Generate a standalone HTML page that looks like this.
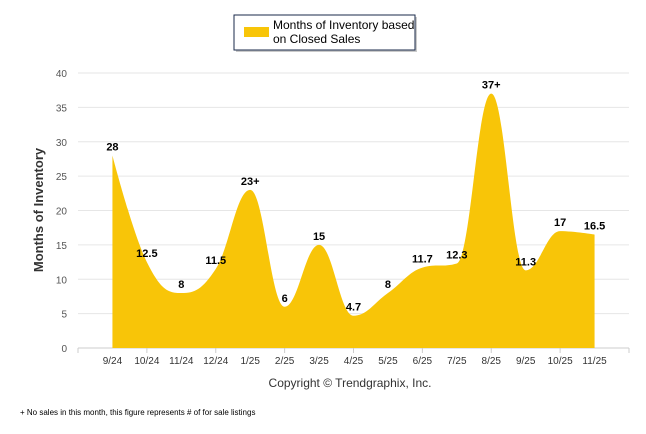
<!DOCTYPE html>
<html><head><meta charset="utf-8"><style>
body{margin:0;background:#fff;font-family:"Liberation Sans",Arial,sans-serif}
svg{display:block}
</style></head><body>
<svg id="c" width="646" height="434" xmlns="http://www.w3.org/2000/svg">
<g>
<rect x="236" y="17" width="181" height="35" fill="#666" opacity="0.35"/>
<rect x="234" y="15" width="181" height="35" fill="#fff" stroke="#1a2a4a" stroke-width="1"/>
<rect x="244" y="27" width="25" height="10" fill="#f8c508"/>
<text x="273" y="29" font-size="12" fill="#000">Months of Inventory based</text>
<text x="273" y="43" font-size="12" fill="#000">on Closed Sales</text>
</g>
<g id="grid"></g>
<path id="area" fill="#f8c508"/>
<g id="labels"></g>
<text x="43" y="210" font-size="13" font-weight="bold" fill="#333" transform="rotate(-90 43 210)" text-anchor="middle">Months of Inventory</text>
<text x="350" y="387" font-size="12" fill="#333" text-anchor="middle">Copyright © Trendgraphix, Inc.</text>
<text x="20" y="415" font-size="8" fill="#000">+  No sales in this month, this figure represents # of for sale listings</text>
</svg>
<script>
const categories=["9/24","10/24","11/24","12/24","1/25","2/25","3/25","4/25","5/25","6/25","7/25","8/25","9/25","10/25","11/25"];
const values=[28,12.5,8,11.5,23,6,15,4.7,8,11.7,12.3,37,11.3,17,16.5];
const valueLabels=["28","12.5","8","11.5","23+","6","15","4.7","8","11.7","12.3","37+","11.3","17","16.5"];
const yTicks=[0,5,10,15,20,25,30,35,40];
const NS="http://www.w3.org/2000/svg";
const x0=78,x1=629,y0=348,y1=73,yMax=40;
const band=(x1-x0)/16;
const X=i=>x0+band*(i+1);
const Y=v=>y0-(v/yMax)*(y0-y1);
function mk(t,a,p){const e=document.createElementNS(NS,t);for(const k in a)e.setAttribute(k,a[k]);p.appendChild(e);return e;}
const grid=document.getElementById('grid');
yTicks.forEach(v=>{
 const l=mk('line',{x1:x0,x2:x1,y1:Y(v),y2:Y(v),stroke:v===0?'#ccc':'#e6e6e6','stroke-width':1},grid);
 
 
 const t=mk('text',{x:67,y:Y(v)+4,'font-size':10,fill:'#555','text-anchor':'end'},grid);
 t.textContent=v;
 
 
});
for(let k=0;k<=8;k++){const tx=x0+k*band*2;const l=mk('line',{x1:tx,x2:tx,y1:y0,y2:y0+5,stroke:'#ccc'},grid);
 
 }
categories.forEach((c,i)=>{
 const t=mk('text',{x:X(i),y:364,'font-size':10,fill:'#333','text-anchor':'middle'},grid);
 t.textContent=c;
 
 
});
const pts=values.map((v,i)=>[X(i),Y(v)]);
function ctrl(i){
 const p=pts[i],a=pts[i-1],b=pts[i+1],s=1.5,d=2.5;
 let lx=(s*p[0]+a[0])/d,ly=(s*p[1]+a[1])/d,rx=(s*p[0]+b[0])/d,ry=(s*p[1]+b[1])/d;
 const corr=((ry-ly)*(rx-p[0]))/(rx-lx)+p[1]-ry;ly+=corr;ry+=corr;
 if(ly>Math.max(a[1],p[1])){ly=Math.max(a[1],p[1]);ry=2*p[1]-ly;}else if(ly<Math.min(a[1],p[1])){ly=Math.min(a[1],p[1]);ry=2*p[1]-ly;}
 if(ry>Math.max(b[1],p[1])){ry=Math.max(b[1],p[1]);ly=2*p[1]-ry;}else if(ry<Math.min(b[1],p[1])){ry=Math.min(b[1],p[1]);ly=2*p[1]-ry;}
 return [[lx,ly],[rx,ry]];
}
const cs=pts.map((p,i)=>(i===0||i===pts.length-1)?[p,p]:ctrl(i));
let d=`M${pts[0][0]},${y0} L${pts[0][0]},${pts[0][1]}`;
for(let i=1;i<pts.length;i++){const c1=cs[i-1][1],c2=cs[i][0];d+=` C${c1[0]},${c1[1]} ${c2[0]},${c2[1]} ${pts[i][0]},${pts[i][1]}`;}
d+=` L${pts[pts.length-1][0]},${y0} Z`;
document.getElementById('area').setAttribute('d',d);
const lg=document.getElementById('labels');
valueLabels.forEach((s,i)=>{
 const t=mk('text',{x:X(i),y:Y(values[i])-5,'font-size':11,'font-weight':'bold',fill:'#000','text-anchor':'middle'},lg);
 t.textContent=s;
 
 
});
</script>
</body></html>
